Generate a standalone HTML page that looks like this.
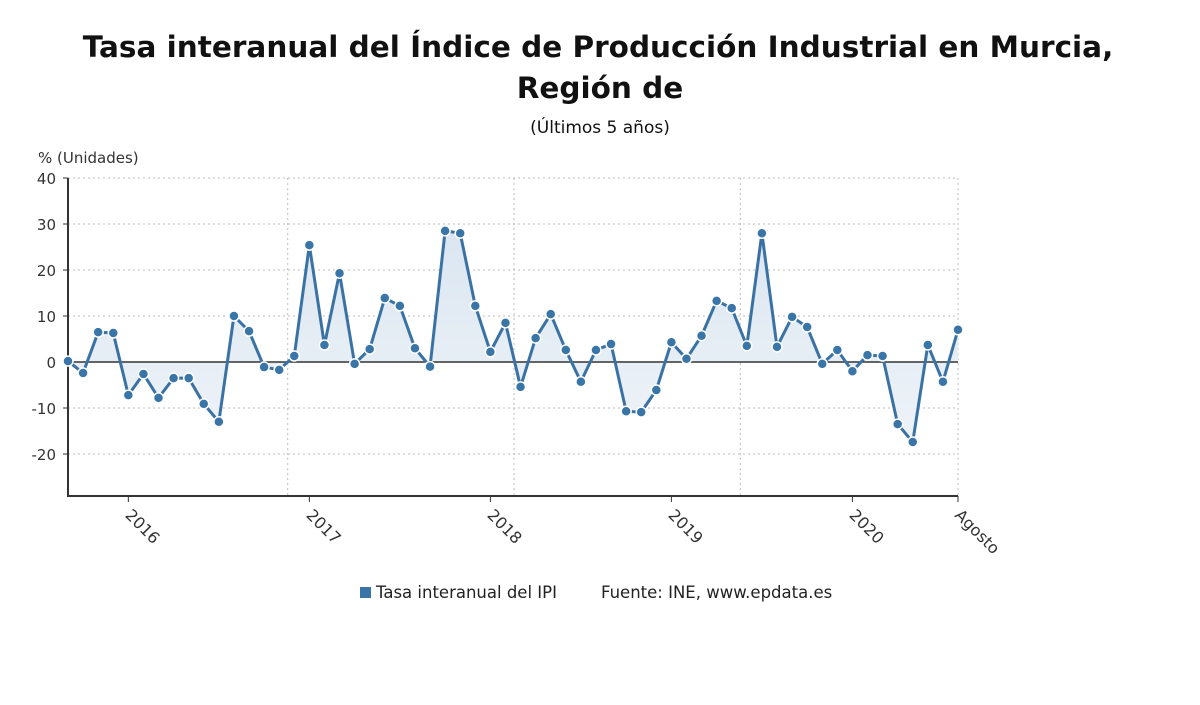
<!DOCTYPE html>
<html><head><meta charset="utf-8"><style>
body{margin:0;background:#fff;font-family:"DejaVu Sans","Liberation Sans",sans-serif;}
#wrap{position:relative;width:1200px;height:705px;overflow:hidden}
</style></head><body>
<div id="wrap">
<svg id="chart" width="1200" height="705">
<text x="598" y="57" text-anchor="middle" font-size="29.5" font-weight="bold" fill="#111">Tasa interanual del Índice de Producción Industrial en Murcia,</text>
<text x="600" y="98" text-anchor="middle" font-size="29.5" font-weight="bold" fill="#111">Región de</text>
<text x="600" y="133" text-anchor="middle" font-size="17" fill="#111">(Últimos 5 años)</text>
<text x="38" y="163" font-size="15" fill="#333">% (Unidades)</text>
<defs><linearGradient id="g" x1="0" y1="0" x2="0" y2="1"><stop offset="0" stop-color="#dbe6f1"/><stop offset="1" stop-color="#eef3f8"/></linearGradient></defs>
<g id="grid"></g><g id="area"></g><g id="marks"></g>
<g>
<rect x="360" y="587" width="11" height="11" fill="#3a75a8"/>
<text x="376" y="598" font-size="16.5" fill="#222">Tasa interanual del IPI</text>
<text x="601" y="598" font-size="16.5" fill="#222">Fuente: INE, www.epdata.es</text>
</g>
</svg></div>
<script>
const values=[0.2,-2.4,6.5,6.3,-7.2,-2.6,-7.8,-3.5,-3.5,-9.1,-13,10,6.7,-1.1,-1.7,1.3,25.4,3.7,19.3,-0.4,2.8,13.9,12.2,3.0,-1,28.5,28,12.2,2.2,8.5,-5.4,5.2,10.4,2.6,-4.3,2.6,3.9,-10.7,-10.9,-6.1,4.3,0.7,5.7,13.3,11.7,3.5,28,3.3,9.8,7.6,-0.4,2.6,-2,1.5,1.3,-13.5,-17.4,3.7,-4.3,7];
const yTicks=[40,30,20,10,0,-10,-20];
const xLabels=["2016","2017","2018","2019","2020","Agosto"];
const xLabelIdx=[4,16,28,40,52,59];
const X0=68,X1=958,Y40=178,Y0=362,YB=496;
const x=i=>X0+(X1-X0)*i/(values.length-1);
const y=v=>Y0-(Y0-Y40)*v/40;
const NS="http://www.w3.org/2000/svg";
function mk(t,a,p){const e=document.createElementNS(NS,t);for(const k in a)e.setAttribute(k,a[k]);p.appendChild(e);return e;}
const grid=document.getElementById('grid'),area=document.getElementById('area'),marks=document.getElementById('marks');
yTicks.forEach(t=>{
 if(t!==0){const l=mk('line',{x1:X0,x2:X1,y1:y(t),y2:y(t),stroke:'#bbb','stroke-dasharray':'2,3'},grid);
 
 }
 const tx=mk('text',{x:56,y:y(t)+6,'text-anchor':'end','font-size':15,fill:'#333'},grid);tx.textContent=t;
 
 
 const tk=mk('line',{x1:X0-5,x2:X0,y1:y(t),y2:y(t),stroke:'#333'},grid);
 
 
});
[15,30,45,59].forEach(i=>{const vx=i===59?X1:(x(i)+x(i-1))/2+1;const l=mk('line',{x1:vx,x2:vx,y1:Y40,y2:YB,stroke:'#bbb','stroke-dasharray':'2,3'},grid);
 
 });
xLabels.forEach((s,k)=>{const px=x(xLabelIdx[k]);
 const tk=mk('line',{x1:px,x2:px,y1:YB,y2:YB+6,stroke:'#333'},grid);
 
 
 const t=mk('text',{x:px-4,y:YB+20,'font-size':16,fill:'#333',transform:`rotate(45 ${px-4} ${YB+20})`},grid);t.textContent=s;
 
 });
let d=`M${x(0)},${Y0}`;values.forEach((v,i)=>d+=`L${x(i)},${y(v)}`);d+=`L${x(values.length-1)},${Y0}Z`;
const ar=mk('path',{d,fill:'url(#g)'},area);


const ax=mk('path',{d:`M${X0},${Y40}V${YB}H${X1}`,fill:'none',stroke:'#333','stroke-width':2},grid);


const zl=mk('line',{x1:X0,x2:X1,y1:Y0,y2:Y0,stroke:'#333','stroke-width':1.5},area);


const ln=mk('polyline',{points:values.map((v,i)=>x(i)+','+y(v)).join(' '),fill:'none',stroke:'#3a72a4','stroke-width':3},marks);


values.forEach((v,i)=>{const c=mk('circle',{cx:x(i),cy:y(v),r:5,fill:'#3a75a8',stroke:'#fff','stroke-width':1.5},marks);
 
 });
</script></body></html>
